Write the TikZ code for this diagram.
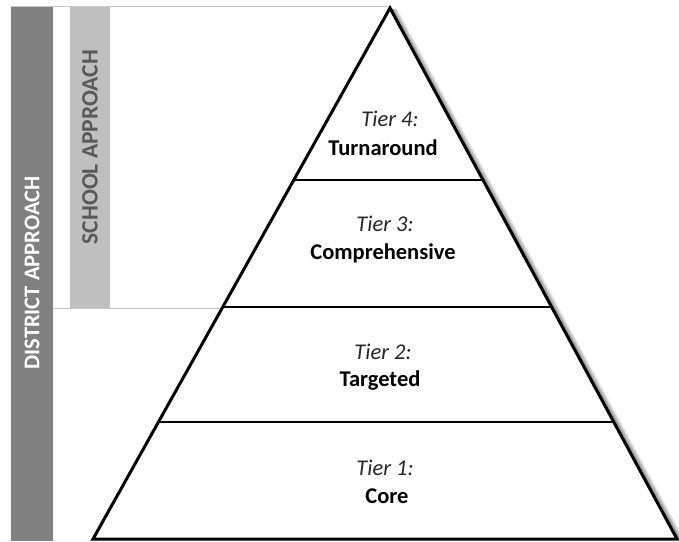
\documentclass[tikz,border=0pt]{standalone}
\usepackage{fontspec}
\setmainfont{Carlito}
\usetikzlibrary{calc}
\definecolor{districtgray}{HTML}{808080}
\definecolor{schoolgray}{HTML}{BFBFBF}
\definecolor{schooltext}{HTML}{595959}
\definecolor{framegray}{HTML}{C8C8C8}

\begin{document}
\begin{tikzpicture}[x=1pt,y=-1pt,
    tiername/.style={font=\fontsize{22.5}{26}\selectfont\itshape,text=black!85},
    tierlabel/.style={font=\fontsize{22.5}{26}\selectfont\bfseries},
    barlabel/.style={font=\fontsize{22.5}{26}\selectfont\bfseries,rotate=90}]
  \useasboundingbox (0,0) rectangle (679,541);

  % ===== Side bars =====
  \fill[districtgray] (11,6) rectangle (53,541);     % District
  \fill[schoolgray] (70,6) rectangle (110,308);      % School
  \draw[framegray,line width=1pt] (11,6) -- (390,6);
  \draw[framegray,line width=1pt] (53,308) -- (225,308);

  \node[barlabel,text=white] (district) at (32,273) {DISTRICT APPROACH};
  \node[barlabel,text=schooltext,font=\fontsize{23.5}{27}\selectfont\bfseries] (school) at (90,147) {SCHOOL APPROACH};

  % ===== Pyramid =====
  \coordinate (apex) at (390,8);
  \coordinate (bl) at (93,539);
  \coordinate (br) at (677,539);

  % shadow on right side
  \foreach \s/\o in {6/0.05,5/0.07,4/0.09,3/0.12,2/0.16,1/0.2} {
    \draw[black,opacity=\o,line width=2.8pt] ($(apex)+(\s,1)$) -- ($(br)+(\s,0)$);
  }
  \fill[white] (apex) -- (bl) -- (br) -- cycle;
  \draw[line width=3pt,line join=miter] (apex) -- (bl) -- (br) -- cycle;

  % tier dividers
  \draw[line width=2pt] ($(bl)!0.22!(apex)$) -- ($(br)!0.22!(apex)$);
  \draw[line width=2pt] ($(bl)!0.436!(apex)$) -- ($(br)!0.436!(apex)$);
  \draw[line width=2pt] ($(bl)!0.677!(apex)$) -- ($(br)!0.677!(apex)$);

  % --- Labels ---
  \node[tiername] (t4) at (390,119) {Tier 4:};
  \node[tierlabel] (n4) at (383,148) {Turnaround};
  \node[tiername] (t3) at (385,224) {Tier 3:};
  \node[tierlabel] (n3) at (383,253) {Comprehensive};
  \node[tiername] (t2) at (383,352) {Tier 2:};
  \node[tierlabel] (n2) at (380,381) {Targeted};
  \node[tiername] (t1) at (385,468) {Tier 1:};
  \node[tierlabel] (n1) at (387,496) {Core};
\end{tikzpicture}
\end{document}
